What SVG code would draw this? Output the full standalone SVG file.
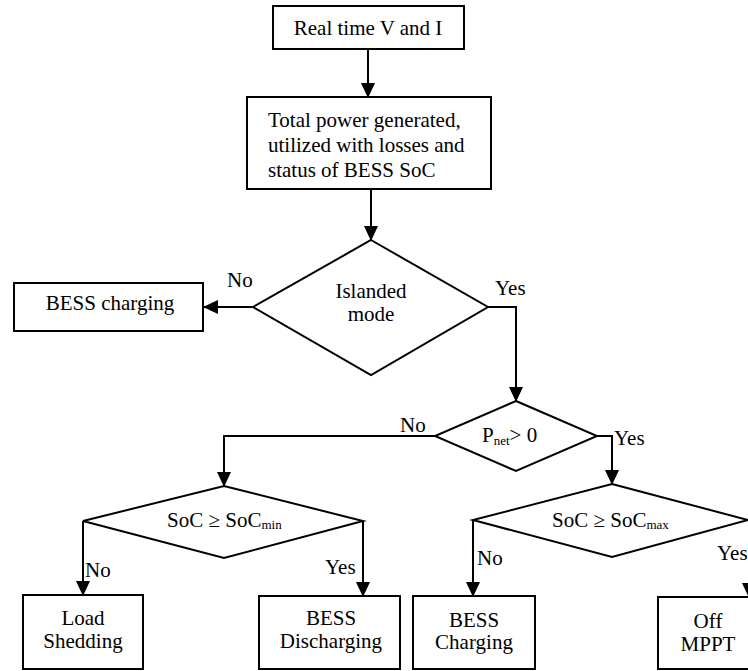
<svg xmlns="http://www.w3.org/2000/svg" width="748" height="671" viewBox="0 0 748 671">
<defs>
<style>
.box{fill:#fff;stroke:#000;stroke-width:2}
.dia{fill:#fff;stroke:#000;stroke-width:2;stroke-linejoin:miter}
.t{font-family:'Liberation Serif','Times New Roman','DejaVu Serif','Noto Serif',serif;font-size:21px;fill:#000}
.c{text-anchor:middle}
.sub{font-size:13px}
.ln{fill:none;stroke:#000;stroke-width:2;marker-end:url(#arr)}
</style>
<marker id="arr" markerUnits="userSpaceOnUse" markerWidth="15" markerHeight="14" refX="14" refY="7" orient="auto">
<path d="M0,0 L15,7 L0,14 z" fill="#000"/>
</marker>
</defs>
<rect width="748" height="671" fill="#fff"/>
<g id="connectors">
<line class="ln" x1="368" y1="49" x2="368" y2="97"/>
<line class="ln" x1="371" y1="189" x2="371" y2="240"/>
<line class="ln" x1="253" y1="307" x2="204" y2="307"/>
<polyline class="ln" points="488,307 516,307 516,401"/>
<polyline class="ln" points="435,436 224,436 224,486"/>
<polyline class="ln" points="597,436 612,436 612,484"/>
<line class="ln" x1="83" y1="521" x2="83" y2="595"/>
<line class="ln" x1="363" y1="521" x2="363" y2="596"/>
<line class="ln" x1="473" y1="520" x2="473" y2="596"/>
<polyline class="ln" points="748,520 749,520 749,597"/>
</g>
<g id="labels" font-family="Liberation Serif, Times New Roman, serif">
<text class="t" x="227" y="287">No</text>
<text class="t" x="495" y="295">Yes</text>
<text class="t" x="400" y="432">No</text>
<text class="t" x="614" y="445">Yes</text>
<text class="t" x="85" y="577">No</text>
<text class="t" x="325" y="574">Yes</text>
<text class="t" x="477" y="565">No</text>
<text class="t" x="717" y="560">Yes</text>
</g>
<g id="realtime">
<rect class="box" x="273" y="6" width="191" height="43"/>
<text class="t c" x="368" y="35">Real time V and I</text>
</g>
<g id="totalpower">
<rect class="box" x="247" y="97" width="244" height="92"/>
<text class="t" x="268" y="127">Total power generated,</text>
<text class="t" x="268" y="152">utilized with losses and</text>
<text class="t" x="268" y="177">status of BESS SoC</text>
</g>
<g id="islanded">
<polygon class="dia" points="371,240 488,307 371,375 253,307"/>
<text class="t c" x="371" y="298">Islanded</text>
<text class="t c" x="371" y="321">mode</text>
</g>
<g id="bess-charging-top">
<rect class="box" x="14" y="283" width="189" height="48"/>
<text class="t c" x="110" y="310">BESS charging</text>
</g>
<g id="pnet">
<polygon class="dia" points="516,401 597,436 516,471 435,436"/>
<text class="t" x="482" y="442">P<tspan class="sub" dy="3">net</tspan><tspan dy="-3">&gt; 0</tspan></text>
</g>
<g id="socmin">
<polygon class="dia" points="224,486 363,521 224,558 83,521"/>
<text class="t" x="167" y="527">SoC ≥ SoC<tspan class="sub" dy="2">min</tspan></text>
</g>
<g id="socmax">
<polygon class="dia" points="612,484 748,520 612,557 473,520"/>
<text class="t" x="552" y="527">SoC ≥ SoC<tspan class="sub" dy="2">max</tspan></text>
</g>
<g id="load-shedding">
<rect class="box" x="23" y="595" width="120" height="74"/>
<text class="t c" x="83" y="625">Load</text>
<text class="t c" x="83" y="648">Shedding</text>
</g>
<g id="bess-discharging">
<rect class="box" x="259" y="596" width="141" height="73"/>
<text class="t c" x="331" y="625">BESS</text>
<text class="t c" x="331" y="648">Discharging</text>
</g>
<g id="bess-charging">
<rect class="box" x="413" y="596" width="122" height="73"/>
<text class="t c" x="474" y="627">BESS</text>
<text class="t c" x="474" y="649">Charging</text>
</g>
<g id="off-mppt">
<rect class="box" x="658" y="597" width="100" height="72"/>
<text class="t c" x="708" y="628">Off</text>
<text class="t c" x="708" y="651">MPPT</text>
</g>
</svg>
